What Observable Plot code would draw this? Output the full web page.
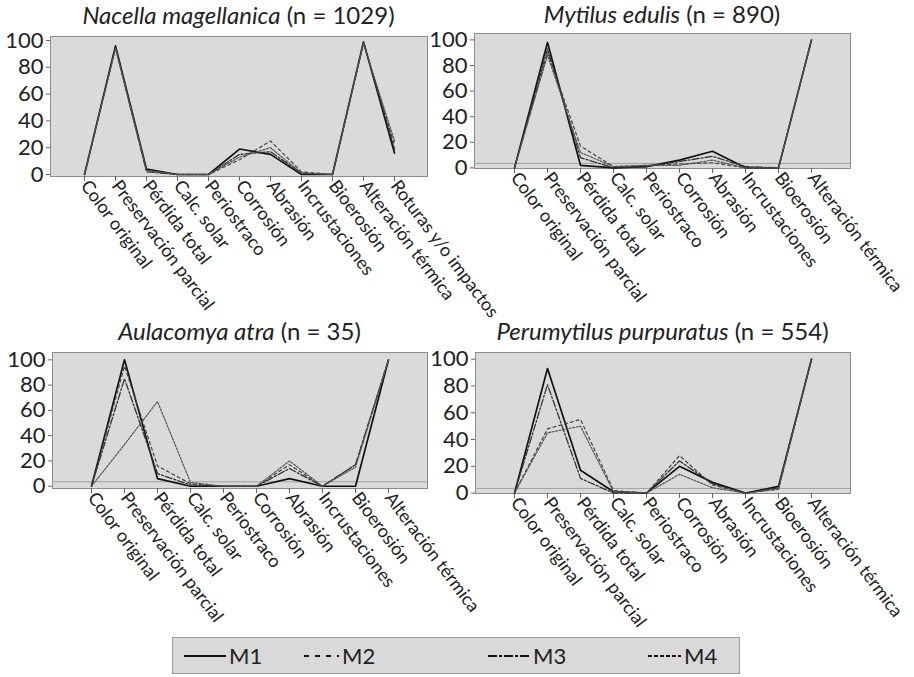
<!DOCTYPE html>
<html>
<head>
<meta charset="utf-8">
<script src="https://cdn.jsdelivr.net/npm/d3@7"></script>
<script src="https://cdn.jsdelivr.net/npm/@observablehq/plot@0.6"></script>
<style>
  html, body { margin: 0; padding: 0; background: #fff; }
  #root { position: relative; width: 914px; height: 677px; font-family: Lato, "Open Sans", sans-serif; color: #222; overflow: hidden; }
  .panel { position: absolute; }
  .panel svg { overflow: visible; }
  .title { position: absolute; font-size: 24px; line-height: 28px; white-space: nowrap; transform: translateX(-50%); }
  .legend { position: absolute; left: 172px; top: 637px; width: 566px; height: 35px; background: #d9d9d9; border: 1px solid #9a9a9a; font-size: 22px; }
  .legend .item { position: absolute; top: 4px; display: flex; align-items: center; }
</style>
</head>
<body>
<div id="root"></div>
<script>
// ---------- data ----------
const categoriesNacella = ["Color original", "Preservación parcial", "Pérdida total", "Calc. solar", "Periostraco", "Corrosión", "Abrasión", "Incrustaciones", "Bioerosión", "Alteración térmica", "Roturas y/o impactos"];
const categoriesOthers = ["Color original", "Preservación parcial", "Pérdida total", "Calc. solar", "Periostraco", "Corrosión", "Abrasión", "Incrustaciones", "Bioerosión", "Alteración térmica"];
const seriesNames = ["M1", "M2", "M3", "M4"];
const yTicks = [0, 20, 40, 60, 80, 100];

const nacellaM1 = [0, 96, 4, 0, 0, 19, 15, 0, 0, 99, 16];
const nacellaM2 = [0, 95, 3, 0, 0, 11, 25, 2, 0, 98, 22];
const nacellaM3 = [0, 95, 2, 0, 0, 15, 17, 1, 0, 99, 19];
const nacellaM4 = [0, 94, 3, 0, 0, 13, 20, 1, 0, 98, 25];

const mytilusM1 = [0, 98, 2, 0, 1, 6, 13, 0, 0, 100];
const mytilusM2 = [0, 90, 17, 1, 2, 3, 4, 0, 0, 100];
const mytilusM3 = [0, 93, 8, 0, 1, 5, 9, 1, 0, 100];
const mytilusM4 = [0, 88, 12, 1, 2, 2, 6, 0, 0, 100];

const aulacomyaM1 = [0, 100, 6, 0, 0, 0, 6, 0, 0, 100];
const aulacomyaM2 = [0, 95, 16, 2, 0, 0, 17, 0, 17, 100];
const aulacomyaM3 = [0, 85, 10, 1, 0, 0, 14, 0, 17, 100];
const aulacomyaM4 = [0, 33, 67, 3, 0, 0, 20, 0, 15, 100];

const perumytilusM1 = [0, 93, 17, 1, 0, 20, 8, 0, 5, 100];
const perumytilusM2 = [0, 48, 55, 2, 0, 28, 6, 0, 3, 100];
const perumytilusM3 = [0, 81, 11, 0, 0, 24, 7, 0, 4, 100];
const perumytilusM4 = [0, 45, 50, 1, 0, 14, 4, 0, 3, 100];

const panelSpecies = ["Nacella magellanica", "Mytilus edulis", "Aulacomya atra", "Perumytilus purpuratus"];
const panelN = [1029, 890, 35, 554];

// ---------- styling ----------
const lineStyle = {
  M1: {stroke: "#111", strokeWidth: 1.7},
  M2: {stroke: "#444", strokeWidth: 1.2, strokeDasharray: "3,3"},
  M3: {stroke: "#333", strokeWidth: 1.3, strokeDasharray: "7,2,2,2"},
  M4: {stroke: "#555", strokeWidth: 1.2, strokeDasharray: "2,1.5"}
};
const legendDash = {M1: null, M2: "5,6", M3: "9,2,3,2", M4: "4,2"};
const legendLen = {M1: 42, M2: 35, M3: 42, M4: 33};

function toRows(cats, arrays) {
  const rows = [];
  seriesNames.forEach((s, i) => cats.forEach((c, j) => rows.push({cat: c, series: s, value: arrays[i][j]})));
  return rows;
}

const panels = [
  {cats: categoriesNacella, rows: toRows(categoriesNacella, [nacellaM1, nacellaM2, nacellaM3, nacellaM4]),
   left: 0, top: 0, ml: 50, mr: 30, mt: 36, inner: 140, yd: [-1.5, 103], band: false},
  {cats: categoriesOthers, rows: toRows(categoriesOthers, [mytilusM1, mytilusM2, mytilusM3, mytilusM4]),
   left: 430, top: 0, ml: 44, mr: 37, mt: 33, inner: 135, yd: [-0.5, 105], band: true},
  {cats: categoriesOthers, rows: toRows(categoriesOthers, [aulacomyaM1, aulacomyaM2, aulacomyaM3, aulacomyaM4]),
   left: 0, top: 300, ml: 52, mr: 30, mt: 52, inner: 136, yd: [-1.8, 105.8], band: true},
  {cats: categoriesOthers, rows: toRows(categoriesOthers, [perumytilusM1, perumytilusM2, perumytilusM3, perumytilusM4]),
   left: 430, top: 300, ml: 45, mr: 37, mt: 52, inner: 141, yd: [-0.3, 105], band: true}
];

const root = document.getElementById("root");

panels.forEach((p, k) => {
  const mb = 160;
  const marks = [
    Plot.frame({fill: "#dadada", stroke: "#8c8c8c"}),
  ];
  if (p.band) marks.push(Plot.ruleY([3.5], {stroke: "#a0a0a0", strokeWidth: 1}));
  marks.push(
    Plot.axisY({ticks: yTicks, tickSize: 4, tickPadding: 3, fontSize: 22, label: null, stroke: "#666"}),
    Plot.axisX({tickRotate: 53, tickSize: 5, tickPadding: 1, fontSize: 18, label: null, stroke: "#666"})
  );
  seriesNames.forEach(s => {
    marks.push(Plot.line(p.rows.filter(d => d.series === s), {x: "cat", y: "value", ...lineStyle[s]}));
  });
  const svg = Plot.plot({
    width: 457,
    height: p.mt + p.inner + mb,
    marginLeft: p.ml, marginRight: p.mr, marginTop: p.mt, marginBottom: mb,
    x: {type: "point", domain: p.cats, padding: 1.08},
    y: {domain: p.yd},
    style: {fontFamily: "Lato, 'Open Sans', sans-serif", fontSize: "14px", color: "#222", background: "transparent", overflow: "visible"},
    marks
  });
  const wrap = document.createElement("div");
  wrap.className = "panel";
  wrap.style.left = p.left + "px";
  wrap.style.top = p.top + "px";
  wrap.appendChild(svg);
  root.appendChild(wrap);

  const t = document.createElement("div");
  t.className = "title";
  const plotW = 457 - p.ml - p.mr;
  t.style.left = (p.left + p.ml + plotW / 2) + "px";
  t.style.top = Math.max(0, p.top + p.mt - 35) + "px";
  t.innerHTML = `<i>${panelSpecies[k]}</i> (n = ${panelN[k]})`;
  root.appendChild(t);
});

// ---------- legend ----------
const legend = document.createElement("div");
legend.className = "legend";
const legendX = [10, 130, 314, 474];
seriesNames.forEach((s, i) => {
  const item = document.createElement("div");
  item.className = "item";
  item.style.left = legendX[i] + "px";
  const L = legendLen[s];
  item.innerHTML = `<svg width="${L + 2}" height="26"><line x1="1" y1="13" x2="${L + 1}" y2="13" stroke="#111" stroke-width="2" ${legendDash[s] ? `stroke-dasharray="${legendDash[s]}"` : ""}/></svg><span style="margin-left:2px">${s}</span>`;
  legend.appendChild(item);
});
root.appendChild(legend);
</script>
</body>
</html>
